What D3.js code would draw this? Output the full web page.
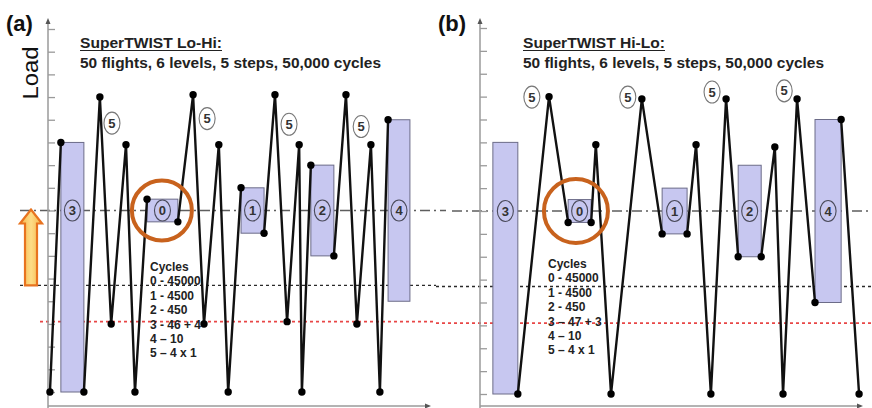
<!DOCTYPE html>
<html><head><meta charset="utf-8">
<script src="https://cdn.jsdelivr.net/npm/d3@7"></script>
<style>
body{margin:0;background:#fff}
svg{display:block;font-family:"Liberation Sans",Arial,sans-serif}
</style>
</head><body>
<svg id="chart" width="872" height="408"></svg>
<script>
// Load levels marked on the load axis
const loadLevels = d3.range(0, 17);
const meanLoad = 8;       // dash-dot reference
const blackRefLoad = 4.7; // black dotted reference
const redRefLoad = 3.1;   // red dotted reference

// Blocks of cycles (shared by both sequences)
const blockLabels = ["3", "0", "1", "2", "4"];
const blockLow  = [0, 7.5, 7, 6, 4];
const blockHigh = [11, 8.5, 9, 10, 12];

// SuperTWIST Lo-Hi: turning points (null = a block sits here)
const loHiTime = [0.5, 3.3, null, 9.2, 13.3, 16.2, 20.0, 22.3, 25.4, null,
  33.3, 37.2, 40.0, 43.8, 46.2, 49.5, null, 55.4, 58.2, 61.3, 64.4, 65.1, 67.4, null,
  73.3, 76.4, 79.2, 82.8, 85.1, 87.2];
const loHiLoad = [0, 11, null, 0, 13, 3, 10.9, 0, 8.5, null,
  7.5, 13.1, 3, 10.9, 0, 9, null, 7, 13.1, 3.1, 10.9, 0, 10, null,
  6, 13.1, 3, 10.9, 0, 12];
const loHiBlockStart = [3.3, 25.4, 49.5, 67.4, 87.2];
const loHiBlockEnd   = [9.2, 33.3, 55.4, 73.3, 92.8];
const loHiStepTime = [16.4, 40.8, 61.8, 80.3];
const loHiStepLoad = [11.85, 12.05, 11.8, 11.7];
const loHiCycles = ["Cycles", "0 - 45000", "1 - 4500", "2 - 450", "3 - 46 + 4", "4 \u2013 10", "5 \u2013 4 x 1"];

// SuperTWIST Hi-Lo: turning points (null = a block sits here)
const hiLoTime = [9.7, 17.7, 22.6, null, 28.5, 29.7, 33.6, 41.5, 46.7, null,
  53.1, 55.4, 59.2, 63.1, 66.2, null, 72.1, 75.6, 77.7, 81.3, 85.9, null, 92.6, 97.2];
const hiLoLoad = [0, 13, 7.5, null, 7.5, 10.9, 0, 12.9, 7, null,
  7, 10.9, 0, 12.9, 6, null, 6, 10.8, 0, 12.9, 4, null, 12, 0];
const hiLoBlockStart = [3.3, 22.6, 46.7, 66.2, 85.9];
const hiLoBlockEnd   = [9.7, 28.5, 53.1, 72.1, 92.6];
const hiLoStepTime = [13.3, 37.9, 59.5, 78.0];
const hiLoStepLoad = [12.98, 12.98, 13.2, 13.25];
const hiLoCycles = ["Cycles", "0 - 45000", "1 - 4500", "2 - 450", "3 \u2013 47 + 3", "4 \u2013 10", "5 \u2013 4 x 1"];

const svg = d3.select("#chart");
const defs = svg.append("defs");
const grad = defs.append("linearGradient").attr("id", "arrowFill")
  .attr("x1", "0%").attr("x2", "100%").attr("y1", "0%").attr("y2", "0%");
grad.append("stop").attr("offset", "0%").attr("stop-color", "#f6b448");
grad.append("stop").attr("offset", "50%").attr("stop-color", "#fddc86");
grad.append("stop").attr("offset", "100%").attr("stop-color", "#f6b448");

const panels = [
  { tag: "(a)", tagX: 6, title: "SuperTWIST Lo-Hi:", titleX: 80, axisX: 48, yRange: [392, 29],
    time: loHiTime, load: loHiLoad, bStart: loHiBlockStart, bEnd: loHiBlockEnd,
    stepT: loHiStepTime, stepL: loHiStepLoad, cycles: loHiCycles, cyclesX: 150, cyclesY: 271,
    focusT: 29.2, focusR: 30, dashX: [20, 446], blackX: [20, 436], redX: [40, 436], showLoad: true, showArrow: true },
  { tag: "(b)", tagX: 438, title: "SuperTWIST Hi-Lo:", titleX: 523, axisX: 480, yRange: [394, 28],
    time: hiLoTime, load: hiLoLoad, bStart: hiLoBlockStart, bEnd: hiLoBlockEnd,
    stepT: hiLoStepTime, stepL: hiLoStepLoad, cycles: hiLoCycles, cyclesX: 548, cyclesY: 268,
    focusT: 24.6, focusR: 32, dashX: [452, 872], blackX: [436, 872], redX: [436, 872], showLoad: false, showArrow: false }
];

const subtitle = "50 flights, 6 levels, 5 steps, 50,000 cycles";

panels.forEach(p => {
  const g = svg.append("g");
  const x = d3.scaleLinear().domain([0, 100]).range([p.axisX, p.axisX + 390]);
  const y = d3.scaleLinear().domain([0, 16]).range(p.yRange);
  const axisColor = "#9a9a9a";
  const xAxisY = 406;

  // reference lines
  g.append("line").attr("x1", p.dashX[0]).attr("x2", p.dashX[1])
    .attr("y1", y(meanLoad)).attr("y2", y(meanLoad))
    .attr("stroke", "#5e5e5e").attr("stroke-width", 1.3).attr("stroke-dasharray", "10,4,2,4");
  g.append("line").attr("x1", p.blackX[0]).attr("x2", p.blackX[1])
    .attr("y1", y(blackRefLoad)).attr("y2", y(blackRefLoad))
    .attr("stroke", "#2a2a2a").attr("stroke-width", 1.3).attr("stroke-dasharray", "3,3");
  g.append("line").attr("x1", p.redX[0]).attr("x2", p.redX[1])
    .attr("y1", y(redRefLoad)).attr("y2", y(redRefLoad))
    .attr("stroke", "#e84646").attr("stroke-width", 1.7).attr("stroke-dasharray", "3,3");

  // load axis ticks
  const yAxis = d3.axisRight(y).tickValues(loadLevels).tickSize(7).tickFormat("");
  const ya = g.append("g").attr("transform", `translate(${p.axisX},0)`).call(yAxis);
  ya.select(".domain").remove();
  ya.selectAll(".tick line").attr("stroke", axisColor).attr("stroke-width", 1.3);

  // axes lines with arrowheads
  g.append("line").attr("x1", p.axisX).attr("x2", p.axisX).attr("y1", xAxisY + 2).attr("y2", 21)
    .attr("stroke", axisColor).attr("stroke-width", 1.5);
  g.append("path").attr("d", `M${p.axisX},18 L${p.axisX - 2.5},24 L${p.axisX + 2.5},24 Z`).attr("fill", "#555");
  const xEnd = p.axisX + 383;
  g.append("line").attr("x1", p.axisX).attr("x2", xEnd - 3).attr("y1", xAxisY).attr("y2", xAxisY)
    .attr("stroke", axisColor).attr("stroke-width", 1.5);
  g.append("path").attr("d", `M${xEnd},${xAxisY} L${xEnd - 6},${xAxisY - 2.5} L${xEnd - 6},${xAxisY + 2.5} Z`).attr("fill", "#555");

  // blocks of cycles
  blockLabels.forEach((lab, i) => {
    g.append("rect")
      .attr("x", x(p.bStart[i])).attr("y", y(blockHigh[i]))
      .attr("width", x(p.bEnd[i]) - x(p.bStart[i]))
      .attr("height", y(blockLow[i]) - y(blockHigh[i]))
      .attr("fill", "#c7c7f0").attr("stroke", "#6c6c88").attr("stroke-width", 1);
  });

  // load sequence
  const pts = p.time.map((t, i) => ({ t, v: p.load[i] }));
  const line = d3.line().defined(d => d.t !== null && d.v !== null).x(d => x(d.t)).y(d => y(d.v));
  g.append("path").datum(pts).attr("d", line).attr("fill", "none")
    .attr("stroke", "#111").attr("stroke-width", 2.4).attr("stroke-linejoin", "miter");
  g.selectAll("circle.pt").data(pts.filter(d => d.t !== null)).join("circle").attr("class", "pt")
    .attr("cx", d => x(d.t)).attr("cy", d => y(d.v)).attr("r", 3.7).attr("fill", "#000");

  // block labels
  blockLabels.forEach((lab, i) => {
    const cx = (x(p.bStart[i]) + x(p.bEnd[i])) / 2;
    g.append("ellipse").attr("cx", cx).attr("cy", y(meanLoad)).attr("rx", 8).attr("ry", 10.5)
      .attr("fill", "#c7c7f0").attr("stroke", "#4a4a5a").attr("stroke-width", 1.1);
    g.append("text").attr("x", cx).attr("y", y(meanLoad) + 4.5).attr("text-anchor", "middle")
      .attr("font-size", 13).attr("font-weight", "bold").attr("fill", "#333").text(lab);
  });

  // step 5 labels
  p.stepT.forEach((t, i) => {
    g.append("ellipse").attr("cx", x(t)).attr("cy", y(p.stepL[i])).attr("rx", 8).attr("ry", 11)
      .attr("fill", "#fff").attr("stroke", "#777").attr("stroke-width", 1.1);
    g.append("text").attr("x", x(t)).attr("y", y(p.stepL[i]) + 4.5).attr("text-anchor", "middle")
      .attr("font-size", 13).attr("font-weight", "bold").attr("fill", "#333").text("5");
  });

  // highlight ring around block 0
  g.append("circle").attr("cx", x(p.focusT)).attr("cy", y(meanLoad)).attr("r", p.focusR)
    .attr("fill", "none").attr("stroke", "#c8621d").attr("stroke-width", 4);

  // cycles legend
  const ct = g.append("text").attr("font-size", 12).attr("font-weight", "bold").attr("fill", "#222");
  p.cycles.forEach((s, i) => {
    ct.append("tspan").attr("x", p.cyclesX).attr("y", p.cyclesY + i * 14.4).text(s);
  });

  // titles
  g.append("text").attr("x", p.tagX).attr("y", 31).attr("font-size", 22).attr("font-weight", "bold")
    .attr("fill", "#111").text(p.tag);
  g.append("text").attr("x", p.titleX).attr("y", 48).attr("font-size", 15).attr("font-weight", "bold")
    .attr("fill", "#222").attr("textLength", 142).attr("lengthAdjust", "spacingAndGlyphs").text(p.title);
  g.append("line").attr("x1", p.titleX).attr("x2", p.titleX + 142).attr("y1", 50.5).attr("y2", 50.5)
    .attr("stroke", "#222").attr("stroke-width", 1.2);
  g.append("text").attr("x", p.titleX).attr("y", 68).attr("font-size", 15).attr("font-weight", "bold")
    .attr("fill", "#222").attr("textLength", 301).attr("lengthAdjust", "spacingAndGlyphs").text(subtitle);

  if (p.showLoad) {
    g.append("text").attr("transform", `translate(38,73) rotate(-90)`).attr("text-anchor", "middle")
      .attr("font-size", 22).attr("fill", "#111").attr("textLength", 53).attr("lengthAdjust", "spacingAndGlyphs")
      .text("Load");
  }

  if (p.showArrow) {
    const cx = 31, yb = y(blackRefLoad), yt = y(meanLoad) - 1;
    const sh = 6, hh = 11, hl = 14;
    const d = `M${cx - sh},${yb} L${cx - sh},${yt + hl} L${cx - hh},${yt + hl} L${cx},${yt} ` +
              `L${cx + hh},${yt + hl} L${cx + sh},${yt + hl} L${cx + sh},${yb} Z`;
    g.append("path").attr("d", d).attr("fill", "url(#arrowFill)").attr("stroke", "#e8731f").attr("stroke-width", 2.2)
      .attr("stroke-linejoin", "miter");
  }
});
</script>
</body></html>
